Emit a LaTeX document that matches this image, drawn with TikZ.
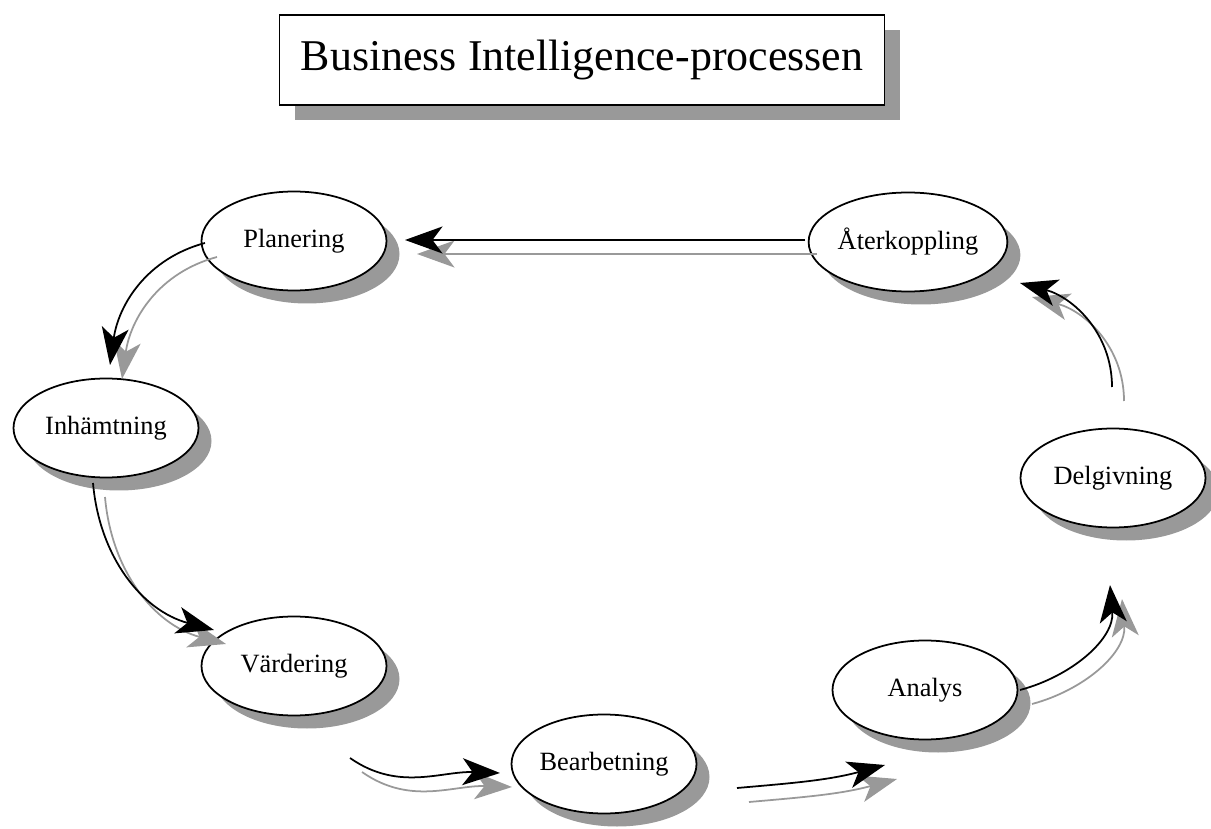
\documentclass[tikz,border=0pt]{standalone}
\usepackage{fontspec}
\setmainfont{Liberation Serif}
\usetikzlibrary{arrows.meta,calc,shapes.geometric,shadows}

\begin{document}
\begin{tikzpicture}[
		phase/.style={
			ellipse,
			draw=black,
			line width=1pt,
			fill=white,
			minimum width=3.7cm,
			minimum height=1.98cm,
			inner sep=0pt,
			font=\fontsize{15}{17}\selectfont,
			drop shadow={shadow xshift=0.26cm,shadow yshift=-0.26cm,fill=black!40,opacity=1}
		},
		titlebox/.style={
			rectangle,
			draw=black,
			line width=0.9pt,
			fill=white,
			minimum width=12.1cm,
			minimum height=1.8cm,
			font=\fontsize{25}{28}\selectfont,
			drop shadow={shadow xshift=0.3cm,shadow yshift=-0.3cm,fill=black!40,opacity=1}
		},
		flow/.style={
			-{Stealth[length=7.5mm,width=5.4mm,inset=2mm]},
			draw=black,
			line width=1pt
		},
		flowshade/.style={
			-{Stealth[length=7.5mm,width=5.4mm,inset=2mm]},
			draw=black!40,
			line width=1pt,
			transform canvas={xshift=0.24cm,yshift=-0.28cm}
		}
	]
		\useasboundingbox (0,0) rectangle (24.22,-16.58);

		\node[titlebox] (title) at (11.64,-1.2) {Business Intelligence-processen};

		\node[phase] (plan) at (5.88,-4.82) {Planering};
		\node[phase] (aterk) at (18.16,-4.84) {Återkoppling};
		\node[phase] (inh) at (2.12,-8.56) {Inhämtning};
		\node[phase] (delg) at (22.26,-9.56) {Delgivning};
		\node[phase] (vard) at (5.88,-13.32) {Värdering};
		\node[phase] (analys) at (18.5,-13.8) {Analys};
		\node[phase] (bearb) at (12.08,-15.28) {Bearbetning};

		\foreach \a/\ax/\ay/\b/\bx/\by/\o/\i in {
				plan/-1.78/-0.04/inh/0.08/1.26/195/82,
				inh/-0.26/-1.1/vard/-1.6/0.72/-85/165,
				vard/1.12/-1.84/bearb/-2.08/-0.18/-35/178,
				bearb/2.66/-0.48/analys/-0.8/-1.5/5/195,
				analys/1.9/0/delg/-0.06/-2.14/15/-85,
				delg/-0.02/1.82/aterk/2.24/-0.82/90/-15,
				aterk/-2.06/0.04/plan/2.22/0.02/180/0}
		{
			\draw[flowshade] ($(\a)+(\ax,\ay)$) to[out=\o,in=\i] ($(\b)+(\bx,\by)$);
			\draw[flow] ($(\a)+(\ax,\ay)$) to[out=\o,in=\i] ($(\b)+(\bx,\by)$);
		}
	\end{tikzpicture}
\end{document}
